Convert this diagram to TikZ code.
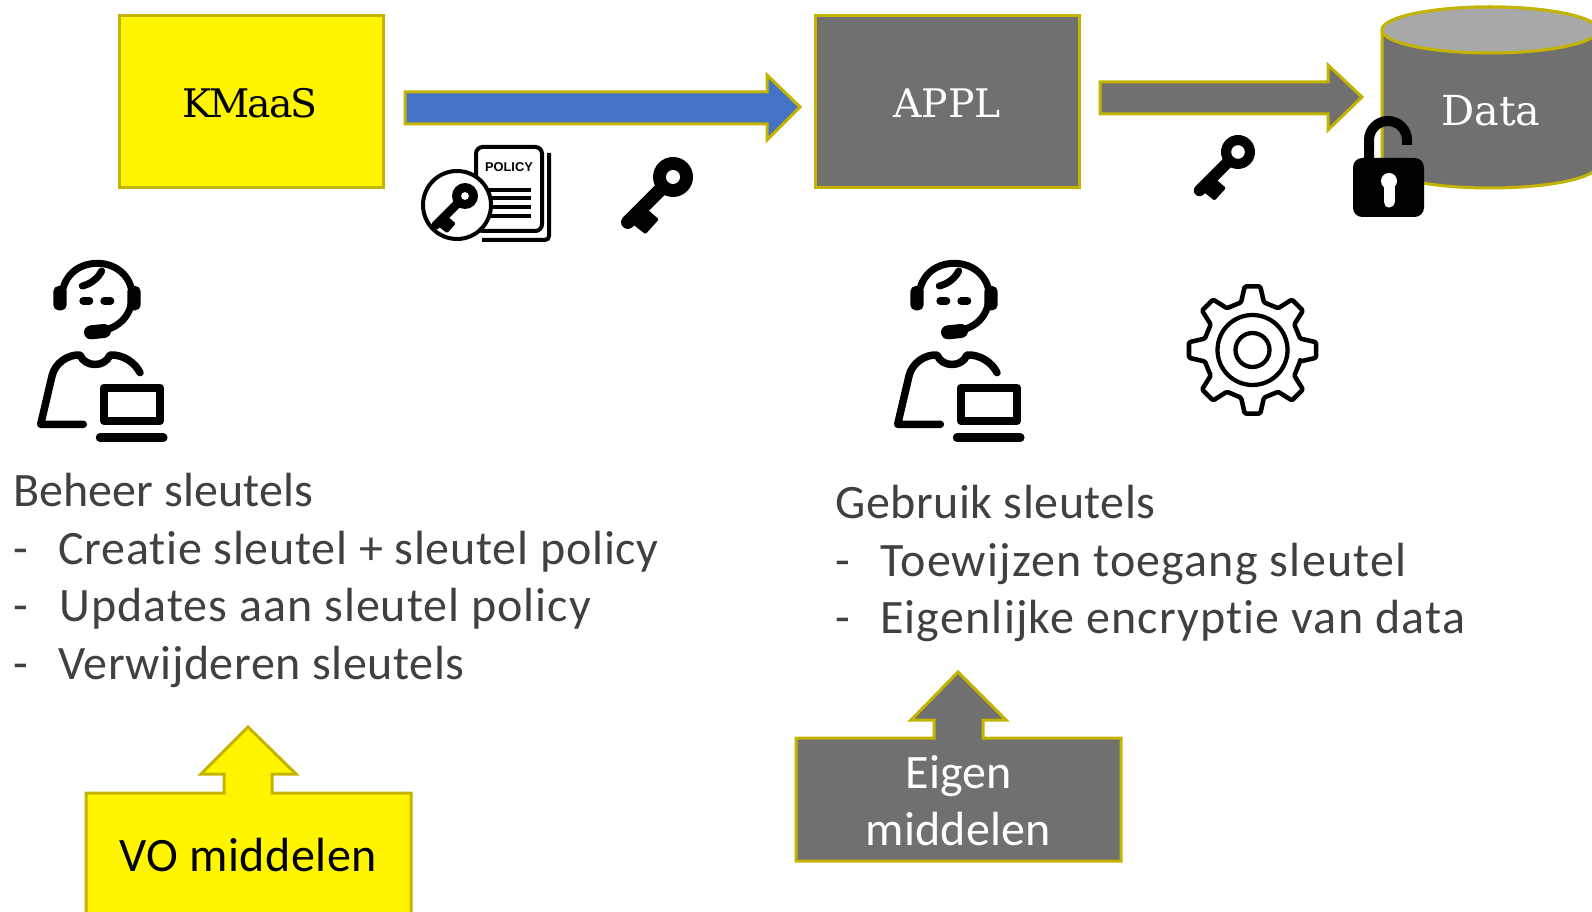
\documentclass[tikz,border=0pt]{standalone}
\usepackage{fontspec}
\setmainfont{Carlito}[Ligatures=CommonOff]
\newfontfamily\slabf{DejaVu Serif}
\newfontfamily\polf{Liberation Sans}
\definecolor{gold}{HTML}{C2B400}
\definecolor{yel}{HTML}{FFF500}
\definecolor{grayb}{HTML}{707070}
\definecolor{graytop}{HTML}{A8A8A8}
\definecolor{blueb}{HTML}{4472C4}
\definecolor{txt}{HTML}{404040}
\newcommand{\lsp}[2]{{\addfontfeature{LetterSpace=#1}#2}}
\tikzset{
  shp/.style={draw=gold,line width=2.25pt,line join=miter,miter limit=10},
  ybox/.style={shp,fill=yel},
  gbox/.style={shp,fill=grayb},
  slab/.style={font=\slabf\fontsize{29.5}{36}\selectfont},
  body/.style={anchor=base west,text=txt,inner sep=0pt,font=\fontsize{36}{42}\selectfont},
  boxt/.style={inner sep=0pt,font=\fontsize{36}{42}\selectfont},
  ic/.style={line width=#1*0.75pt,line cap=round,line join=round,draw=black},
}
% key: ring centre, scale, hole radius in local units
\newcommand{\keyicon}[4]{%
 \begin{scope}[shift={(#1,#2)}]
 \begin{scope}[x={(-0.53pt*#3,-0.53pt*#3)},y={(0.53pt*#3,-0.53pt*#3)}]
  \fill[black] (0,0) circle[radius=20];
  \draw[line width=13.5*0.75pt*#3,line cap=round] (15,0) -- (64,0);
  \fill[black,rounded corners=1pt] (41,4) -- (40,20) -- (60,21) -- (62,4) -- cycle;
  \fill[white] (0,0) circle[radius=#4];
 \end{scope}
 \end{scope}}
% person, in zoom coordinates (3x)
\newcommand{\person}[1]{%
 \begin{scope}[shift={(#1,251)},x=0.25pt,y=-0.25pt]
  \draw[ic=7] (125,145) .. controls (125,80) and (170,37) .. (232,37) .. controls (295,37) and (340,85) .. (336,140) .. controls (334,190) and (300,232) .. (240,240);
  \draw[ic=7] (187,105) .. controls (215,98) and (235,80) .. (245,60);
  \fill[black,rounded corners=4pt] (100,105) rectangle (140,178);
  \fill[black,rounded corners=4pt] (322,105) rectangle (362,178);
  \draw[ic=8] (190,150) -- (208,150);
  \draw[ic=8] (253,150) -- (271,150);
  \draw[ic=14] (213,244) -- (252,240);
  \draw[ic=7.5] (190,520) -- (62,520) -- (96,375) .. controls (105,335) and (145,310) .. (180,312) .. controls (195,350) and (255,350) .. (270,312) .. controls (310,310) and (345,335) .. (360,365);
  \draw[line width=6pt,line join=round] (252,410) rectangle (420,510);
  \draw[ic=8.5] (240,560) -- (430,560);
 \end{scope}}
\begin{document}
\begin{tikzpicture}[x=0.75pt,y=-0.75pt]
\useasboundingbox (0,0) rectangle (1592,912);
\clip (0,0) rectangle (1592,912);
% KMaaS, APPL
\node[ybox,minimum width=198pt,minimum height=129pt] (kmaas) at (251.5,101.5) {};
\node[slab,text=black,inner sep=0pt] (kmaast) at (250,103.5) {\lsp{-5}{KMaaS}};
\node[gbox,minimum width=198pt,minimum height=129pt] (appl) at (947,101.5) {};
\node[slab,text=white,inner sep=0pt] (applt) at (947,103) {APPL};
% arrows
\draw[shp,fill=blueb] (405,92) -- (767,92) -- (767,75) -- (800,107) -- (767,140) -- (767,124) -- (405,124) -- cycle;
\draw[shp,fill=grayb] (1100,82) -- (1328,82) -- (1328,65) -- (1362,97) -- (1328,130) -- (1328,114) -- (1100,114) -- cycle;
% Cylinder
\draw[shp,fill=grayb] (1382,30) -- (1382,165) arc[start angle=180,end angle=0,x radius=108,y radius=23] -- (1598,30) arc[start angle=0,end angle=-180,x radius=108,y radius=23] -- cycle;
\draw[shp,fill=graytop] (1490,30) ellipse[x radius=108,y radius=23];
\node[slab,text=white,font=\slabf\fontsize{31}{36}\selectfont] (data) at (1491,111) {Data};
% Policy icon
\draw[line width=3pt,rounded corners=3pt] (549,153) -- (549,240) -- (482,240);
\draw[line width=3pt,fill=white,rounded corners=5pt] (476,147) rectangle (542,231);
\node[inner sep=0pt,font=\polf\bfseries\fontsize{9.6}{12}\selectfont] (pol) at (509,167) {POLICY};
\foreach \yy in {190,198,207,216} \draw[line width=3.4pt] (488,\yy) -- (531,\yy);
\draw[line width=3pt,fill=white] (457,205) circle[radius=34];
\keyicon{465}{196}{0.65}{6}
\keyicon{673}{177}{1}{7}
\keyicon{1238}{152}{0.85}{8}
% Lock
\draw[line width=7.5pt,line cap=butt] (1369,162) -- (1369,140) arc[start angle=180,end angle=360,x radius=19,y radius=19] -- (1407,145);
\fill[black,rounded corners=7pt] (1353,158) rectangle (1424,217);
\fill[white] (1389,181) circle[radius=8];
\draw[white,line width=8.25pt,line cap=round] (1389,184) -- (1389,202);
% people
\person{20}
\person{877}
% gear
\begin{scope}[shift={(1252.5,350)}]
 \draw[line width=3.4pt,line join=round,rounded corners=1pt]
  (13.5:49) \foreach \a in {45,90,...,360}{ -- ({\a-13.5}:49) -- ({\a-7}:64) -- ({\a+7}:64) -- ({\a+13.5}:49) } -- cycle;
 \draw[line width=3.2pt] (0,0) circle[radius=35];
 \draw[line width=3.2pt] (0,0) circle[radius=17];
\end{scope}
% text
\node[body] (t1) at (13,507) {\lsp{0.2}{Beheer sleutels}};
\node[body] (t2) at (13,564) {-};
\node[body] (t2b) at (58,564) {\lsp{1.6}{Creatie sleutel + sleutel policy}};
\node[body] (t3) at (13,621) {-};
\node[body] (t3b) at (59,621) {\lsp{2.1}{Updates aan sleutel policy}};
\node[body] (t4) at (13,679) {-};
\node[body] (t4b) at (58,679) {\lsp{1.2}{Verwijderen sleutels}};
\node[body] (u1) at (835,518) {\lsp{1.05}{Gebruik sleutels}};
\node[body] (u2) at (835,576) {-};
\node[body] (u2b) at (880,576) {\lsp{2.45}{Toewijzen toegang sleutel}};
\node[body] (u3) at (835,633) {-};
\node[body] (u3b) at (880,633) {\lsp{2.45}{Eigenlijke encryptie van data}};
% callouts
\draw[shp,fill=yel] (86,793) -- (224,793) -- (224,774) -- (201,774) -- (248,727) -- (296,774) -- (272,774) -- (272,793) -- (411,793) -- (411,930) -- (86,930) -- cycle;
\node[boxt,text=black] (vo) at (248,855) {\lsp{1.1}{VO middelen}};
\draw[shp,fill=grayb] (796,738) -- (934,738) -- (934,720) -- (911,720) -- (958,672) -- (1006,720) -- (983,720) -- (983,738) -- (1121,738) -- (1121,861) -- (796,861) -- cycle;
\node[boxt,text=white] (e1) at (958.5,776) {Eigen};
\node[boxt,text=white] (e2) at (958.5,829) {\lsp{0.5}{middelen}};
\end{tikzpicture}
\end{document}
